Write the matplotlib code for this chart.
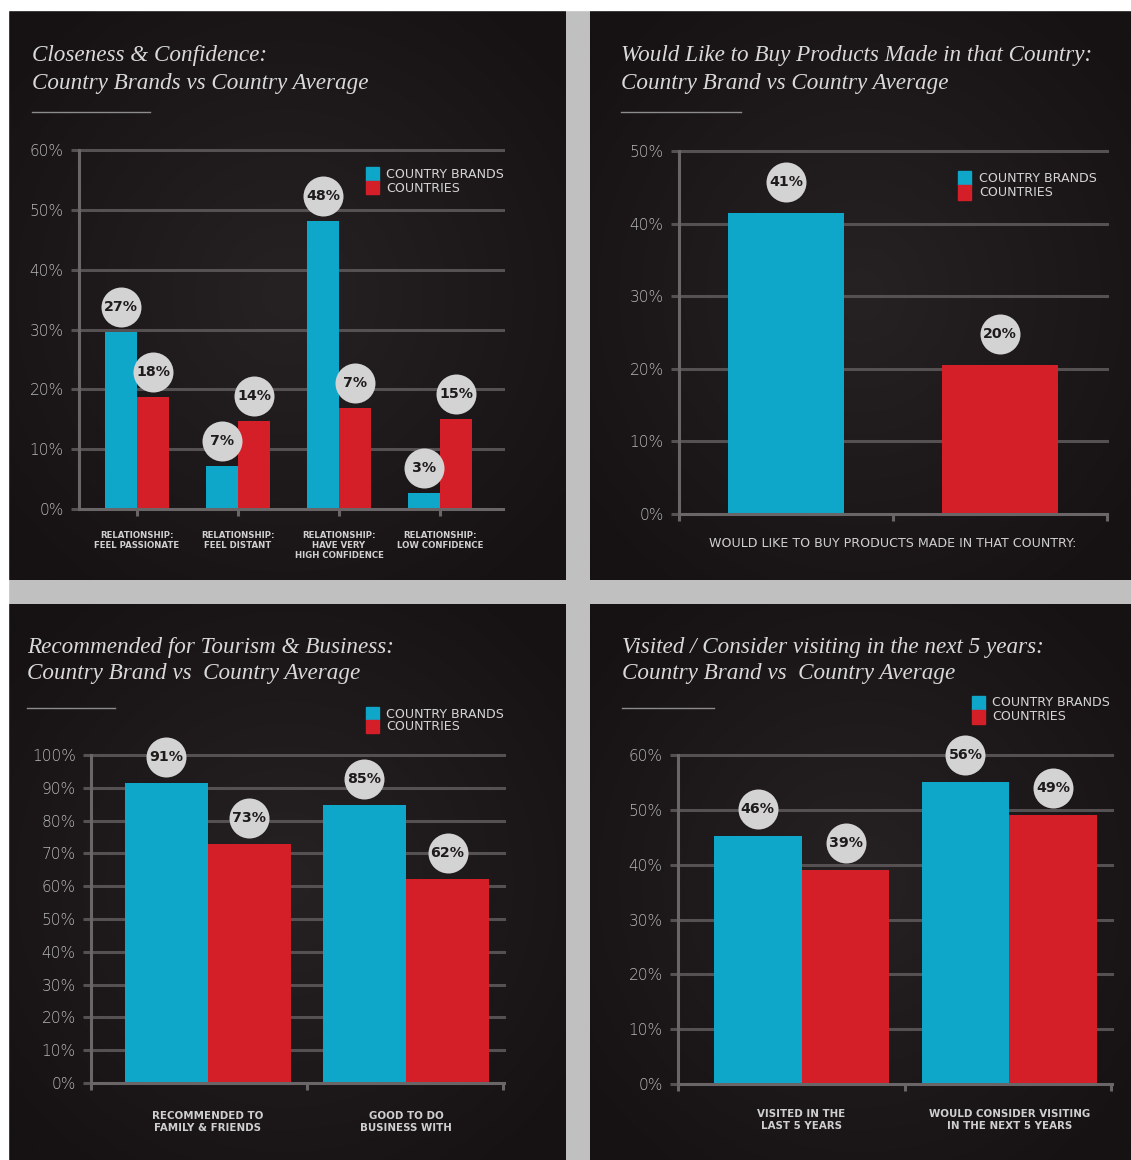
import numpy as np
import matplotlib
matplotlib.use("Agg")
import matplotlib.pyplot as plt
from matplotlib.patches import Rectangle
from matplotlib import transforms as mtrans
from matplotlib.colors import LinearSegmentedColormap

# ---------------- data ----------------
tl_title = ["Closeness & Confidence:", "Country Brands vs Country Average"]
tl_categories = ["RELATIONSHIP:\nFEEL PASSIONATE", "RELATIONSHIP:\nFEEL DISTANT",
                 "RELATIONSHIP:\nHAVE VERY\nHIGH CONFIDENCE", "RELATIONSHIP:\nLOW CONFIDENCE"]
tl_brands = [29.5, 7.2, 48.2, 2.7]
tl_countries = [18.7, 14.7, 16.8, 15.0]
tl_brand_labels = ["27%", "7%", "48%", "3%"]
tl_country_labels = ["18%", "14%", "7%", "15%"]
tl_yticks = [0, 10, 20, 30, 40, 50, 60]

tr_title = ["Would Like to Buy Products Made in that Country:", "Country Brand vs Country Average"]
tr_categories = ["WOULD LIKE TO BUY PRODUCTS MADE IN THAT COUNTRY:"]
tr_brands = [41.4]
tr_countries = [20.5]
tr_brand_labels = ["41%"]
tr_country_labels = ["20%"]
tr_yticks = [0, 10, 20, 30, 40, 50]

bl_title = ["Recommended for Tourism & Business:", "Country Brand vs  Country Average"]
bl_categories = ["RECOMMENDED TO\nFAMILY & FRIENDS", "GOOD TO DO\nBUSINESS WITH"]
bl_brands = [91.4, 84.7]
bl_countries = [72.9, 62.1]
bl_brand_labels = ["91%", "85%"]
bl_country_labels = ["73%", "62%"]
bl_yticks = [0, 10, 20, 30, 40, 50, 60, 70, 80, 90, 100]

br_title = ["Visited / Consider visiting in the next 5 years:", "Country Brand vs  Country Average"]
br_categories = ["VISITED IN THE\nLAST 5 YEARS", "WOULD CONSIDER VISITING\nIN THE NEXT 5 YEARS"]
br_brands = [45.3, 55.0]
br_countries = [39.0, 49.0]
br_brand_labels = ["46%", "56%"]
br_country_labels = ["39%", "49%"]
br_yticks = [0, 10, 20, 30, 40, 50, 60]

legend_labels = ["COUNTRY BRANDS", "COUNTRIES"]

# ---------------- style ----------------
W, H, DPI = 1131, 1160, 100
BLUE = "#0ea6c9"
RED = "#d41f28"
GRID = "#555051"
AXIS = "#6a6566"
TICKTXT = "#b8b8b8"
TITLE = "#d9d9d9"
LEGTXT = "#d4d4d4"
CATTXT = "#cfcfcf"
CIRCLE = "#d3d3d3"
SERIF = ["Liberation Serif", "DejaVu Serif"]
SANS = ["DejaVu Sans"]

fig = plt.figure(figsize=(W / DPI, H / DPI), dpi=DPI)
fig.patch.set_facecolor("#c0c0c0")
renderer = fig.canvas.get_renderer()


def frect(x0, y0, x1, y1):
    return [x0 / W, 1 - y1 / H, (x1 - x0) / W, (y1 - y0) / H]


def fx(x):
    return x / W


def fy(y):
    return 1 - y / H


def fitted_size(text, target, **kw):
    t = fig.text(0, 0, text, fontsize=10, **kw)
    w = t.get_window_extent(renderer).width
    t.remove()
    return 10 * target / w


# white strips
fig.patches.append(Rectangle((0, fy(10)), 1, 1 - fy(10), transform=fig.transFigure,
                             color="white", zorder=0))
fig.patches.append(Rectangle((0, 0), fx(8), 1, transform=fig.transFigure,
                             color="white", zorder=0))

# font sizes (fitted once to reference widths)
TITLE_FS = fitted_size(tl_title[1], 336, family=SERIF, style="italic")
LEG_FS = fitted_size("COUNTRY BRANDS", 117, family=SANS)
TICK_FS = fitted_size("60%", 34, family=SANS, fontweight="light")
CIRC_FS = fitted_size("27%", 34, family=SANS, fontweight="bold")
CAT_FS_SMALL = fitted_size("FEEL PASSIONATE", 86, family=SANS, fontweight="bold")
CAT_FS = fitted_size("FAMILY & FRIENDS", 106, family=SANS, fontweight="bold")
CAT_FS_TR = fitted_size(tr_categories[0], 367, family=SANS)

# panel backgrounds with subtle glow
yy, xx = np.mgrid[-1:1:200j, -1:1:200j]
glow = np.clip(1 - np.sqrt(xx ** 2 + yy ** 2) / 1.3, 0, 1)
cmap_panel = LinearSegmentedColormap.from_list("p", ["#161213", "#262122"])
panels = [(8, 10, 566, 580), (590, 10, 1131, 580), (8, 604, 566, 1160), (590, 604, 1131, 1160)]
for p in panels:
    bg = fig.add_axes(frect(*p), zorder=0)
    bg.imshow(glow, cmap=cmap_panel, aspect="auto", extent=(0, 1, 0, 1), interpolation="bilinear")
    bg.set_axis_off()


def draw_chart(cfg, categories, brands, countries, blabels, clabels, yticks, title):
    ax = fig.add_axes(frect(cfg["ax_l"], cfg["ax_t"], cfg["ax_r"], cfg["ax_b"]), zorder=2)
    ax.set_facecolor("none")
    x = np.arange(len(categories))
    w = cfg["bw"]
    off = cfg["off"]
    ax.bar(x - off, brands, width=w, color=BLUE, zorder=3, linewidth=0)
    ax.bar(x + off, countries, width=w, color=RED, zorder=3, linewidth=0)
    ax.set_xlim(*cfg["xlim"])
    ax.set_ylim(0, yticks[-1])

    # grid
    for t in yticks[1:]:
        ax.axhline(t, color=GRID, lw=2.2, zorder=1, clip_on=False)
    for s in ["top", "right"]:
        ax.spines[s].set_visible(False)
    for s in ["left", "bottom"]:
        ax.spines[s].set_color(AXIS)
        ax.spines[s].set_linewidth(2.2)
        ax.spines[s].set_zorder(4)
    ax.set_yticks(yticks)
    ax.set_yticklabels([f"{t}%" for t in yticks], color=TICKTXT, fontsize=TICK_FS,
                       family=SANS, fontweight="light")
    ax.tick_params(axis="y", length=6, width=2.2, color=GRID, pad=5)
    ax.set_xticks(cfg["xticks"])
    ax.set_xticklabels([])
    ax.tick_params(axis="x", length=5, width=2.2, color=AXIS, direction="out")

    # value circles
    for xs, vals, labs in ((x - off, brands, blabels), (x + off, countries, clabels)):
        tr = mtrans.offset_copy(ax.transData, fig=fig, x=0, y=cfg["coff"], units="dots")
        ax.scatter(xs, vals, s=(20 * 72 / DPI * 2) ** 2, color=CIRCLE, transform=tr,
                   zorder=5, clip_on=False, linewidths=0)
        for xi, v, lab in zip(xs, vals, labs):
            ax.text(xi, v, lab, transform=tr, ha="center", va="center", fontsize=CIRC_FS,
                    fontweight="bold", color="#1e1b1b", family=SANS, zorder=6, clip_on=False)

    # category labels
    blend = mtrans.blended_transform_factory(ax.transData, ax.transAxes)
    trc = mtrans.offset_copy(blend, fig=fig, x=0, y=-cfg["cat_dy"], units="dots")
    for xi, c in zip(x, categories):
        ax.text(xi, 0, c, transform=trc, ha="center", va="top",
                fontsize=cfg["cat_fs"], fontweight=cfg.get("cat_fw", "bold"), color=CATTXT,
                family=SANS, linespacing=cfg.get("cat_ls", 1.1), multialignment="center")

    # title
    tx, ty1, ty2 = cfg["title_pos"]
    fig.text(fx(tx), fy(ty1), title[0], family=SERIF, style="italic", fontsize=TITLE_FS,
             color=TITLE, va="center", ha="left", zorder=3)
    fig.text(fx(tx), fy(ty2), title[1], family=SERIF, style="italic", fontsize=TITLE_FS,
             color=TITLE, va="center", ha="left", zorder=3)
    ry, rx0, rx1 = cfg["rule"]
    fig.add_artist(plt.Line2D([fx(rx0), fx(rx1)], [fy(ry), fy(ry)], color="#8c8c8c", lw=1,
                              transform=fig.transFigure, zorder=3))

    # legend
    lx0, lx1, ly0, ly1, ly2, ltx, lty1, lty2 = cfg["legend"]
    fig.patches.append(Rectangle((fx(lx0), fy(ly1)), fx(lx1) - fx(lx0), fy(ly0) - fy(ly1),
                                 transform=fig.transFigure, color=BLUE, zorder=3))
    fig.patches.append(Rectangle((fx(lx0), fy(ly2)), fx(lx1) - fx(lx0), fy(ly1) - fy(ly2),
                                 transform=fig.transFigure, color=RED, zorder=3))
    fig.text(fx(ltx), fy(lty1), legend_labels[0], fontsize=LEG_FS, color=LEGTXT, family=SANS,
             va="center", ha="left", zorder=3)
    fig.text(fx(ltx), fy(lty2), legend_labels[1], fontsize=LEG_FS, color=LEGTXT, family=SANS,
             va="center", ha="left", zorder=3)
    return ax


tl_cfg = dict(ax_l=79, ax_r=503, ax_t=150, ax_b=509, xlim=(-0.574, 3.624), bw=0.32, off=0.16,
              xticks=[0, 1, 2, 3], coff=25, cat_dy=22, cat_fs=CAT_FS_SMALL, cat_ls=1.15,
              title_pos=(32, 56, 83), rule=(112, 32, 150),
              legend=(366, 379, 167, 181, 194, 386, 174, 188))
tr_cfg = dict(ax_l=679, ax_r=1107, ax_t=151, ax_b=514, xlim=(-1.0, 1.0), bw=0.54, off=0.5,
              xticks=[-1.0, 0.0, 1.0], coff=31, cat_dy=23, cat_fs=CAT_FS_TR, cat_fw="normal",
              title_pos=(621, 56, 83), rule=(112, 621, 741),
              legend=(958, 971, 171, 185, 200, 979, 179, 193))
bl_cfg = dict(ax_l=91, ax_r=504, ax_t=755, ax_b=1083, xlim=(-0.59, 1.495), bw=0.42, off=0.21,
              xticks=[-0.59, 0.5, 1.49], coff=26, cat_dy=28, cat_fs=CAT_FS, cat_ls=1.2,
              title_pos=(27, 648, 674), rule=(708, 27, 115),
              legend=(366, 379, 707, 720, 733, 386, 714, 727))
br_cfg = dict(ax_l=678, ax_r=1112, ax_t=755, ax_b=1084, xlim=(-0.594, 1.493), bw=0.423, off=0.2115,
              xticks=[-0.594, 0.497, 1.49], coff=27, cat_dy=25, cat_fs=CAT_FS, cat_ls=1.2,
              title_pos=(622, 648, 674), rule=(708, 622, 714),
              legend=(972, 985, 696, 710, 724, 992, 703, 717))

draw_chart(tl_cfg, tl_categories, tl_brands, tl_countries, tl_brand_labels, tl_country_labels,
           tl_yticks, tl_title)
draw_chart(tr_cfg, tr_categories, tr_brands, tr_countries, tr_brand_labels, tr_country_labels,
           tr_yticks, tr_title)
draw_chart(bl_cfg, bl_categories, bl_brands, bl_countries, bl_brand_labels, bl_country_labels,
           bl_yticks, bl_title)
draw_chart(br_cfg, br_categories, br_brands, br_countries, br_brand_labels, br_country_labels,
           br_yticks, br_title)

fig.savefig("out.png", dpi=DPI, facecolor=fig.get_facecolor())
